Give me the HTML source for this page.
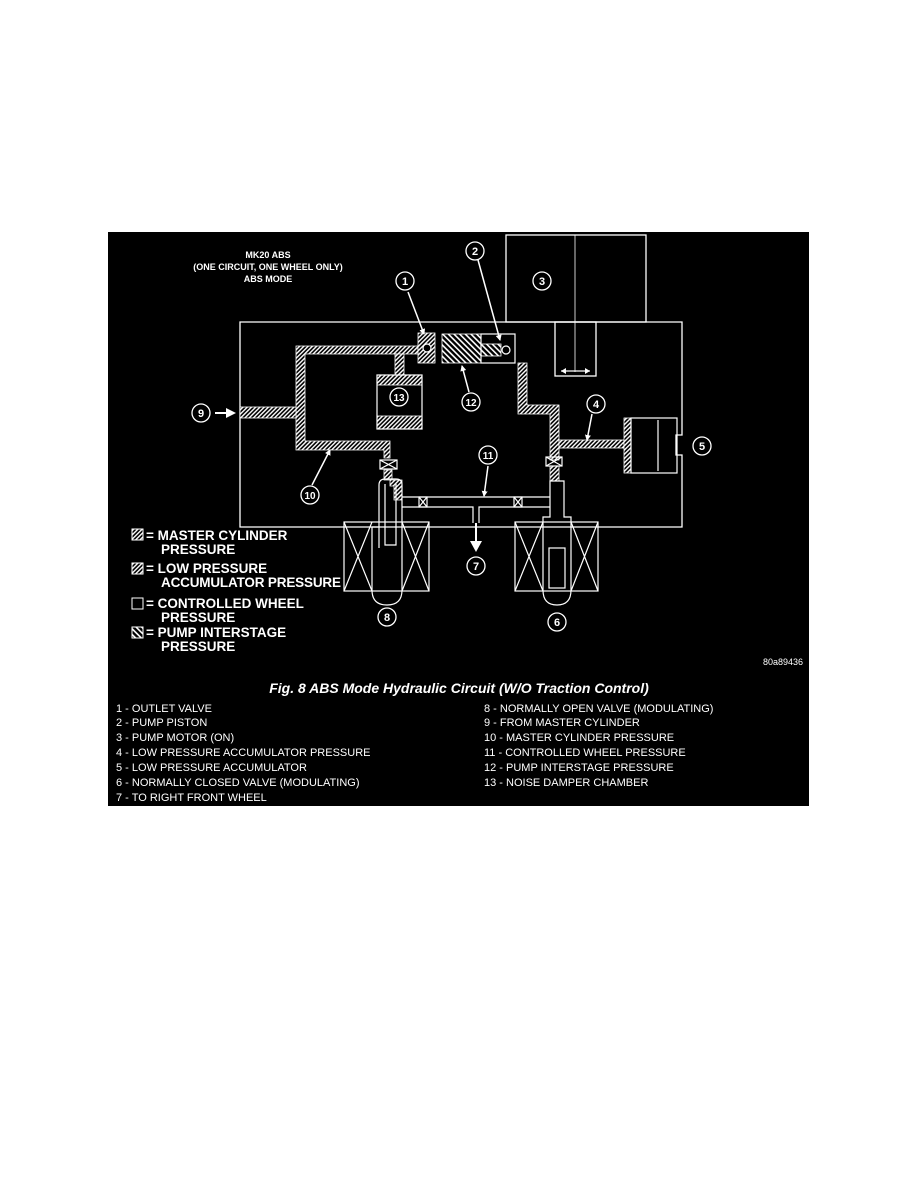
<!DOCTYPE html>
<html><head><style>
html,body{margin:0;padding:0;background:#fff;}
svg{display:block;}
text{font-family:"Liberation Sans",sans-serif;fill:#fff;}
</style></head><body>
<svg width="918" height="1188" viewBox="0 0 918 1188">
<defs>
<pattern id="h" width="3" height="3" patternUnits="userSpaceOnUse" patternTransform="rotate(45)">
<rect width="3" height="3" fill="#000"/><rect width="1.4" height="3" fill="#fff"/></pattern>
<pattern id="h2" width="4" height="4" patternUnits="userSpaceOnUse" patternTransform="rotate(-45)">
<rect width="4" height="4" fill="#000"/><rect width="1.6" height="4" fill="#fff"/></pattern>
<marker id="ah" markerWidth="6" markerHeight="6" refX="5" refY="3" orient="auto" markerUnits="userSpaceOnUse"><path d="M0 0 L6 3 L0 6Z" fill="#fff"/></marker>
</defs>
<rect x="108" y="232" width="701" height="574" fill="#000"/>
<g stroke="#fff" stroke-width="1.3" fill="none">
<rect x="506" y="235" width="140" height="87"/>
<line x1="575" y1="235" x2="575" y2="372" stroke-width="0.8"/>
<path d="M240 322 H682 V435 H676 V455 H682 V527 H240 Z"/>
<rect x="555" y="322" width="41" height="54"/>
<line x1="561" y1="371" x2="590" y2="371"/>
</g>
<path d="M561 371 l5 -3 v6z M590 371 l-5 -3 v6z" fill="#fff"/>
<g fill="url(#h)" stroke="#fff" stroke-width="0.8">
<path d="M296 346 H418 V354 H305 V441 H390 V458 H384 V450 H296 Z"/>
<rect x="240" y="407" width="56" height="11"/>
<rect x="395" y="354" width="9" height="21"/>
<rect x="377" y="375" width="45" height="10"/>
<rect x="377" y="416" width="45" height="13"/>
<rect x="418" y="333" width="17" height="30"/>
<path d="M518 363 H527 V405 H559 V460 H550 V414 H518 Z"/>
<rect x="559" y="440" width="65" height="8"/>
<rect x="624" y="418" width="7" height="55"/>
<path d="M384 470 H392 V480 H384Z M390 480 H402 V500 H394 V486 H390Z"/>
<rect x="550" y="466" width="9" height="15"/>
</g>
<g fill="url(#h2)" stroke="#fff" stroke-width="0.8">
<rect x="442" y="334" width="39" height="29"/>
<rect x="481" y="344" width="20" height="12"/>
</g>
<g stroke="#fff" stroke-width="1.2" fill="none">
<rect x="377" y="375" width="45" height="54"/>
<rect x="481" y="334" width="34" height="29"/>
<rect x="631" y="418" width="46" height="55"/>
<line x1="658" y1="420" x2="658" y2="471"/>
<circle cx="427" cy="348" r="4" fill="#000"/>
<circle cx="506" cy="350" r="4" fill="#000"/>
<rect x="380" y="460" width="17" height="9"/><path d="M380 460 l17 9 M397 460 l-17 9"/>
<rect x="546" y="457" width="16" height="9"/><path d="M546 457 l16 9 M562 457 l-16 9"/>
<rect x="419" y="497" width="8" height="10"/><path d="M419 497 l8 10 M427 497 l-8 10"/>
<rect x="514" y="497" width="8" height="10"/><path d="M514 497 l8 10 M522 497 l-8 10"/>
<path d="M402 497 H550 M402 507 H473 V523 M479 523 V507 H550"/>
<rect x="344" y="522" width="85" height="69"/><path d="M344 522 L372 591 M372 522 L344 591 M402 522 L429 591 M429 522 L402 591"/>
<rect x="515" y="522" width="83" height="69"/><path d="M515 522 L543 591 M543 522 L515 591 M571 522 L598 591 M598 522 L571 591"/>
<path d="M379 548 V485 Q379 479 385 479 H396 Q402 479 402 485 V548 M372 527 V590 Q372 605 387 605 Q402 605 402 590 V527 M372 527 H379"/>
<path d="M385 484 V545 H396 V484"/>
<path d="M550 481 H564 V517 H571 V590 Q571 605 557 605 Q543 605 543 590 V517 H550 Z"/>
<rect x="549" y="548" width="16" height="40"/>
</g>
<path d="M476 523 V543" stroke="#fff" stroke-width="2"/><path d="M470 541 L476 552 L482 541Z" fill="#fff"/>
<g stroke="#fff" stroke-width="1.5" fill="#fff">
<line x1="215" y1="413" x2="228" y2="413" stroke-width="2"/><path d="M226 408 L236 413 L226 418Z" stroke="none"/>
<g marker-end="url(#ah)" fill="none">
<line x1="408" y1="292" x2="424" y2="334"/>
<line x1="478" y1="260" x2="500" y2="340"/>
<line x1="469" y1="392" x2="462" y2="366"/>
<line x1="592" y1="414" x2="587" y2="440"/>
<line x1="312" y1="485" x2="330" y2="450"/>
<line x1="488" y1="466" x2="484" y2="496"/>
</g>
</g>
<g stroke="#fff" stroke-width="1.3" fill="#000">
<circle cx="405" cy="281" r="9"/><circle cx="475" cy="251" r="9"/><circle cx="542" cy="281" r="9"/>
<circle cx="201" cy="413" r="9"/><circle cx="399" cy="397" r="9"/><circle cx="471" cy="402" r="9"/>
<circle cx="596" cy="404" r="9"/><circle cx="702" cy="446" r="9"/><circle cx="310" cy="495" r="9"/>
<circle cx="488" cy="455" r="9"/><circle cx="476" cy="566" r="9"/><circle cx="387" cy="617" r="9"/>
<circle cx="557" cy="622" r="9"/>
</g>
<g font-size="11" font-weight="bold" text-anchor="middle">
<text x="405" y="285">1</text><text x="475" y="255">2</text><text x="542" y="285">3</text>
<text x="201" y="417">9</text><text x="399" y="401" font-size="10">13</text><text x="471" y="406" font-size="10">12</text>
<text x="596" y="408">4</text><text x="702" y="450">5</text><text x="310" y="499" font-size="10">10</text>
<text x="488" y="459" font-size="10">11</text><text x="476" y="570">7</text><text x="387" y="621">8</text>
<text x="557" y="626">6</text>
</g>
<g font-size="9" font-weight="bold" text-anchor="middle">
<text x="268" y="258">MK20 ABS</text>
<text x="268" y="270">(ONE CIRCUIT, ONE WHEEL ONLY)</text>
<text x="268" y="282">ABS MODE</text>
</g>
<rect x="132" y="529" width="11" height="11" fill="url(#h)" stroke="#fff"/>
<rect x="132" y="563" width="11" height="11" fill="url(#h)" stroke="#fff"/>
<rect x="132" y="598" width="11" height="11" fill="#000" stroke="#fff"/>
<rect x="132" y="627" width="11" height="11" fill="url(#h2)" stroke="#fff"/>
<g font-size="13.5" font-weight="bold">
<text x="146" y="540">= MASTER CYLINDER</text><text x="161" y="554">PRESSURE</text>
<text x="146" y="573">= LOW PRESSURE</text><text x="161" y="587" textLength="180">ACCUMULATOR PRESSURE</text>
<text x="146" y="608">= CONTROLLED WHEEL</text><text x="161" y="622">PRESSURE</text>
<text x="146" y="637">= PUMP INTERSTAGE</text><text x="161" y="651">PRESSURE</text>
</g>
<text x="763" y="665" font-size="9">80a89436</text>
<text x="459" y="693" font-size="14" font-weight="bold" font-style="italic" text-anchor="middle">Fig. 8 ABS Mode Hydraulic Circuit (W/O Traction Control)</text>
<g font-size="11">
<text x="116" y="712">1 - OUTLET VALVE</text>
<text x="116" y="726">2 - PUMP PISTON</text>
<text x="116" y="741">3 - PUMP MOTOR (ON)</text>
<text x="116" y="756">4 - LOW PRESSURE ACCUMULATOR PRESSURE</text>
<text x="116" y="771">5 - LOW PRESSURE ACCUMULATOR</text>
<text x="116" y="786">6 - NORMALLY CLOSED VALVE (MODULATING)</text>
<text x="116" y="801">7 - TO RIGHT FRONT WHEEL</text>
<text x="484" y="712">8 - NORMALLY OPEN VALVE (MODULATING)</text>
<text x="484" y="726">9 - FROM MASTER CYLINDER</text>
<text x="484" y="741">10 - MASTER CYLINDER PRESSURE</text>
<text x="484" y="756">11 - CONTROLLED WHEEL PRESSURE</text>
<text x="484" y="771">12 - PUMP INTERSTAGE PRESSURE</text>
<text x="484" y="786">13 - NOISE DAMPER CHAMBER</text>
</g>
</svg>
</body></html>
